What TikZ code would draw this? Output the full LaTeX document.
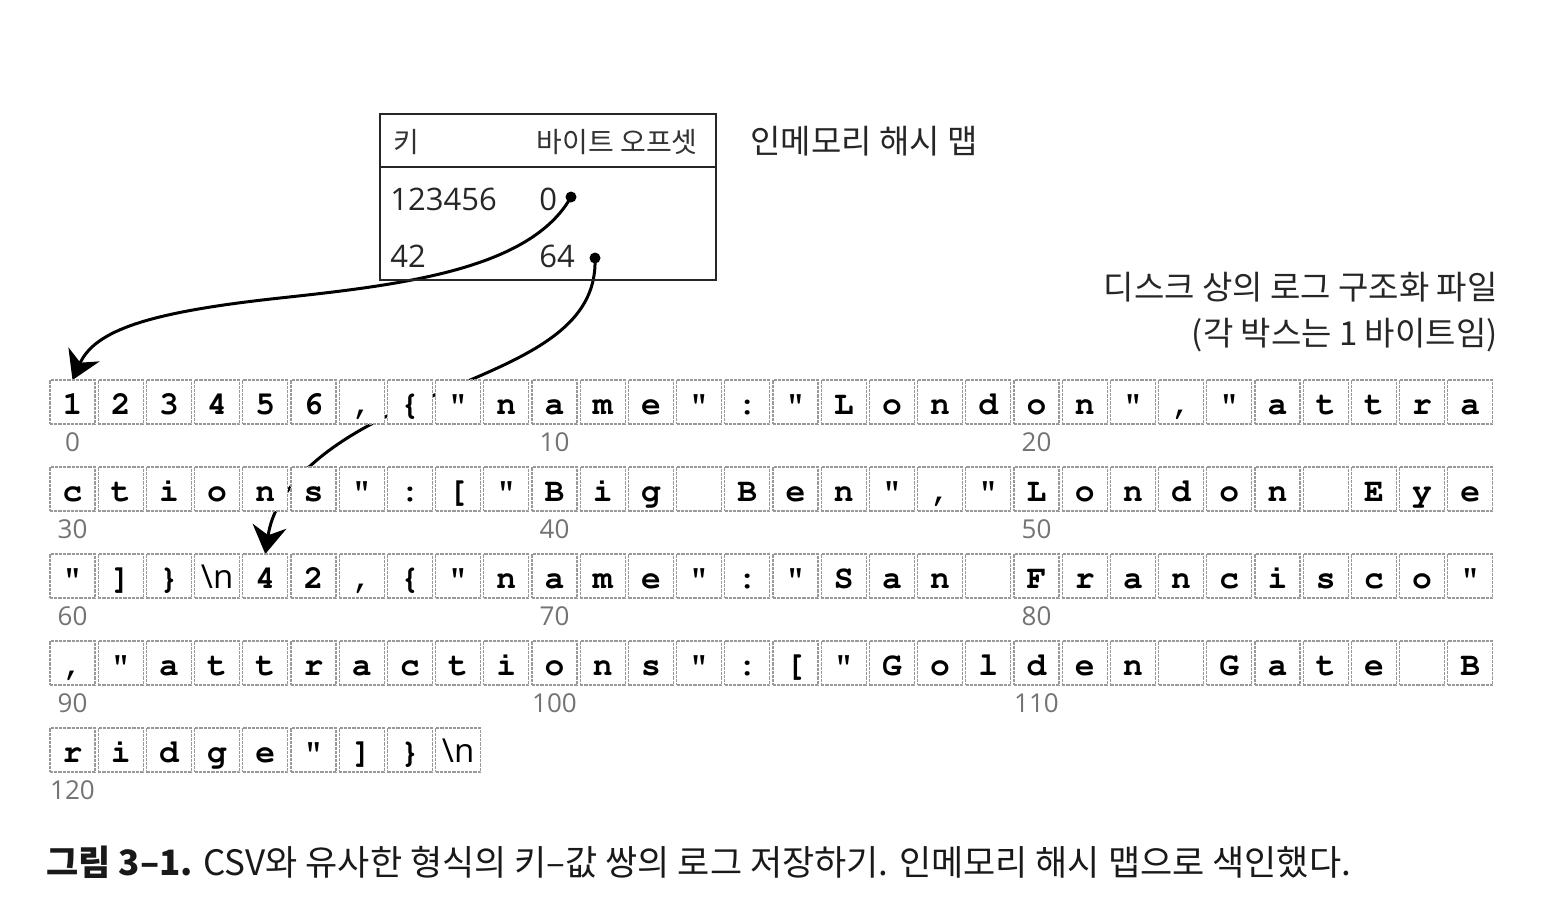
\documentclass[tikz,border=0pt]{standalone}
\usepackage[T1]{fontenc}
\usepackage{fontspec}
\setmainfont{Open Sans}
\newfontfamily\kr{Noto Sans CJK KR}
\usetikzlibrary{arrows.meta, positioning, backgrounds}

% courier bold for the bytes of the log file
\newcommand{\bytefont}{\fontencoding{T1}\fontfamily{pcr}\fontseries{b}\fontsize{16.5}{16.5}\selectfont}
\newcommand{\nlbyte}{{\fontencoding{TU}\fontseries{m}\rmfamily\textbackslash n}}

% one row of the log file: #1 = row number, #2 = its 30 bytes
\newcommand{\byterow}[2]{%
  \foreach \ch [count=\k from 0] in {#2} {
    \pgfmathtruncatemacro{\n}{30*#1+\k}
    \node[bytebox] (b\n) at ({50+48.2*\k},{380+87*#1}) {\ch};
  }}

\begin{document}
\begin{tikzpicture}[
        x = 0.5pt, y = -0.5pt, % one unit = one pixel, y downwards
        > = {Stealth[length=14pt, width=17pt, inset=4.5pt]}, % arrow head style
        bytebox/.style = {draw = black!40, dash pattern = on 1.6pt off 0.5pt, line width = 0.6pt,
            fill = white, anchor = north west, minimum width = 22.5pt, minimum height = 22pt,
            inner sep = 0pt, outer sep = 0pt, text height = 17pt, text depth = 5pt, font = \bytefont},
        idx/.style = {text = black!55, font = \fontsize{13}{13}\selectfont, inner sep = 0pt},
        tablebox/.style = {draw = black!85, line width = 0.8pt, minimum width = 168pt,
            inner sep = 0pt, outer sep = 0pt},
        hdr/.style = {font = \kr\fontsize{14}{14}\selectfont, text = black!80, inner sep = 0pt},
        num/.style = {font = \fontsize{15.5}{15.5}\selectfont, text = black!85, inner sep = 0pt},
        dot/.style = {circle, fill = black, inner sep = 0pt, minimum size = 5.5pt},
        ptr/.style = {->, line width = 1.5pt},
        title/.style = {font = \kr\fontsize{16.5}{23}\selectfont, text = black!85, inner sep = 0pt},
        caption/.style = {font = \kr\fontsize{17.5}{17.5}\selectfont, text = black!90, inner sep = 0pt}
    ]
    \useasboundingbox (0,0) rectangle (1560,917);

    % in-memory hash map
    \node[tablebox, anchor = north west, minimum height = 26.5pt] (head) at (380,114) {};
    \node[tablebox, anchor = north, minimum height = 56.5pt, below = 0pt of head] (body) {};
    \node[hdr, anchor = west] (kcol) at (393,142) {키};
    \node[hdr, anchor = east] (ocol) at (698,142) {바이트 오프셋};
    \node[num, anchor = base west] (k1) at (390,210) {123456};
    \node[num, anchor = base west] (o1) at (539,210) {0};
    \node[num, anchor = base west] (k2) at (390,267) {42};
    \node[num, anchor = base west] (o2) at (539,267) {64};
    \node[dot] (p1) at (571,197) {};
    \node[dot] (p2) at (595,258) {};
    \node[title, anchor = west] (maptitle) at (750,141) {인메모리 해시 맵};

    % the log file on disk
    \byterow{0}{1,2,3,4,5,6,{,},\{,",n,a,m,e,",:,",L,o,n,d,o,n,",{,},",a,t,t,r,a}
    \byterow{1}{c,t,i,o,n,s,",:,[,",B,i,g,{},B,e,n,",{,},",L,o,n,d,o,n,{},E,y,e}
    \byterow{2}{",],\},\nlbyte,4,2,{,},\{,",n,a,m,e,",:,",S,a,n,{},F,r,a,n,c,i,s,c,o,"}
    \byterow{3}{{,},",a,t,t,r,a,c,t,i,o,n,s,",:,[,",G,o,l,d,e,n,{},G,a,t,e,{},B}
    \byterow{4}{r,i,d,g,e,",],\},\nlbyte}

    \foreach \n in {0,10,...,120}
        \node[idx, below = 4pt of b\n] (i\n) {\n};

    % offsets point into the file (under the white bytes)
    \begin{pgfonlayer}{background}
        \draw[ptr] (p1.center) .. controls (530,270) and (400,285) .. (280,298)
            .. controls (150,312) and (95,330) .. (b0.north);
        \draw[ptr] (p2.center) .. controls (598,340) and (500,365) .. (400,410)
            .. controls (320,446) and (275,490) .. (b64.north);
    \end{pgfonlayer}

    \node[title, anchor = east, align = right] (disktitle) at (1498,312)
        {디스크 상의 로그 구조화 파일\\(각 박스는 1 바이트임)};

    \node[caption, anchor = west] (cap) at (46,862)
        {\textbf{그림 3–1.} CSV와 유사한 형식의 키–값 쌍의 로그 저장하기. 인메모리 해시 맵으로 색인했다.};
\end{tikzpicture}
\end{document}
